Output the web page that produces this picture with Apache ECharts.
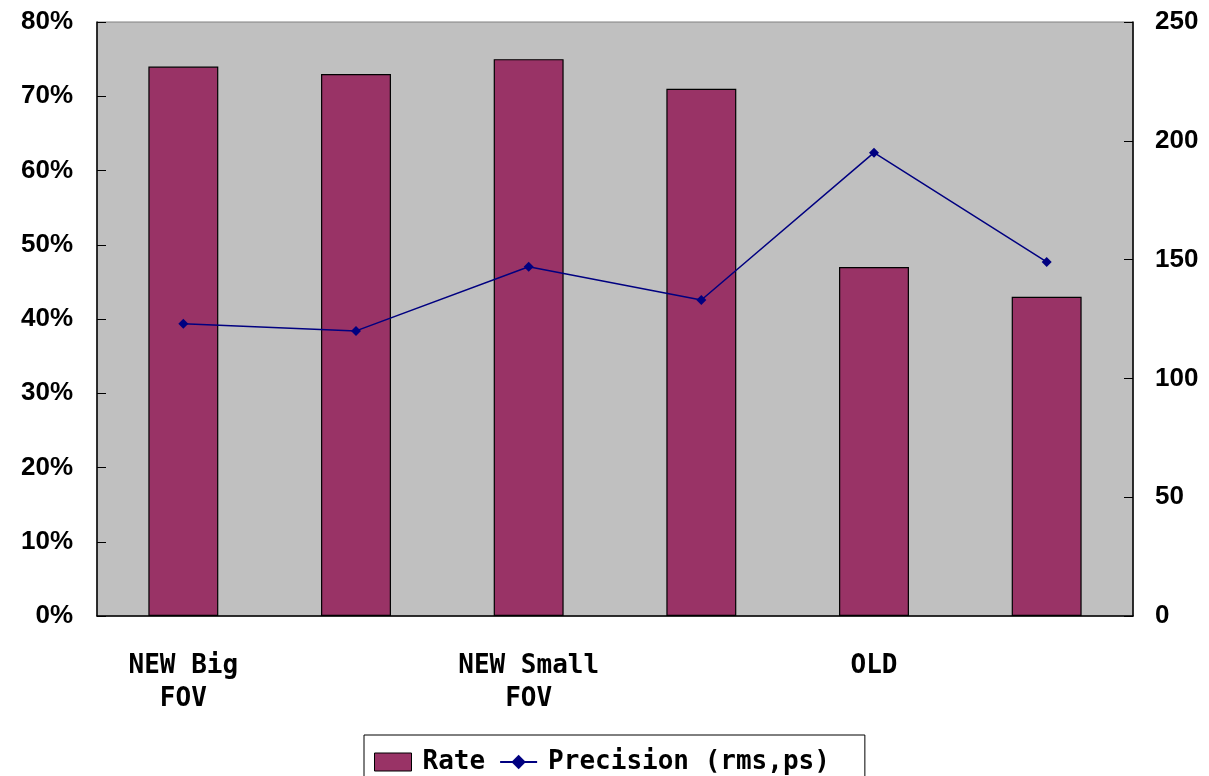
<!DOCTYPE html>
<html>
<head>
<meta charset="utf-8">
<script src="https://cdn.jsdelivr.net/npm/echarts@6/dist/echarts.min.js"></script>
<style>
  html, body { margin: 0; padding: 0; background: #ffffff; }
  #chart { width: 1209px; height: 776px; }
</style>
</head>
<body>
<div id="chart"></div>
<script>
// Detector configurations (labels shown on every other column)
const categories = ['NEW Big\nFOV', '', 'NEW Small\nFOV', '', 'OLD', ''];
// Rate in percent
const rateValues = [74, 73, 75, 71, 47, 43];
// Precision (rms, ps)
const precisionValues = [123, 120, 147, 133, 195, 149];
// Axis ranges
const rateAxis = { min: 0, max: 80, interval: 10 };
const precisionAxis = { min: 0, max: 250, interval: 50 };

const chart = echarts.init(document.getElementById('chart'));
const labelFont = { fontFamily: 'Liberation Sans, Arial, sans-serif', fontWeight: 'bold', fontSize: 26, color: '#000', padding: [6, 0, 0, 0] };
const catFont = { fontFamily: 'DejaVu Sans Mono, monospace', fontWeight: 'bold', fontSize: 26, color: '#000' };

chart.setOption({
  animation: false,
  grid: {
    left: 97, right: 76, top: 22, bottom: 160,
    show: true, backgroundColor: '#c0c0c0', borderColor: '#808080', borderWidth: 1
  },
  legend: {
    top: 735,
    left: 364,
    itemGap: 14,
    itemWidth: 37,
    itemHeight: 18,
    padding: [14, 35, 10, 10],
    borderColor: '#000',
    borderWidth: 1,
    backgroundColor: '#fff',
    textStyle: Object.assign({ padding: [0, 0, 0, 6] }, catFont),
    data: [
      { name: 'Rate', icon: 'rect', itemStyle: { color: '#993366', borderColor: '#000', borderWidth: 1 } },
      { name: 'Precision (rms,ps)' }
    ]
  },
  xAxis: {
    type: 'category',
    data: categories,
    boundaryGap: true,
    axisLine: { lineStyle: { color: '#000', width: 1.5 } },
    axisTick: { inside: true, length: 6, lineStyle: { color: '#000' } },
    axisLabel: Object.assign({ margin: 34, lineHeight: 33, interval: 0 }, catFont),
    splitLine: { show: false }
  },
  yAxis: [
    {
      type: 'value',
      min: rateAxis.min, max: rateAxis.max, interval: rateAxis.interval,
      position: 'left',
      axisLine: { show: true, lineStyle: { color: '#000', width: 1.5 } },
      axisTick: { show: true, inside: true, length: 9, lineStyle: { color: '#000' } },
      axisLabel: Object.assign({ margin: 24, formatter: '{value}%' }, labelFont),
      splitLine: { show: false }
    },
    {
      type: 'value',
      min: precisionAxis.min, max: precisionAxis.max, interval: precisionAxis.interval,
      position: 'right',
      axisLine: { show: true, lineStyle: { color: '#000', width: 1.5 } },
      axisTick: { show: true, inside: true, length: 9, lineStyle: { color: '#000' } },
      axisLabel: Object.assign({ margin: 22 }, labelFont),
      splitLine: { show: false }
    }
  ],
  series: [
    {
      name: 'Rate',
      type: 'bar',
      yAxisIndex: 0,
      data: rateValues,
      barWidth: '40.5%',
      itemStyle: { color: '#993366', borderColor: '#000', borderWidth: 1.2 }
    },
    {
      name: 'Precision (rms,ps)',
      type: 'line',
      yAxisIndex: 1,
      data: precisionValues,
      symbol: 'diamond',
      symbolSize: 10,
      showAllSymbol: true,
      lineStyle: { color: '#000080', width: 1.5 },
      itemStyle: { color: '#000080' }
    }
  ]
});
</script>
</body>
</html>
